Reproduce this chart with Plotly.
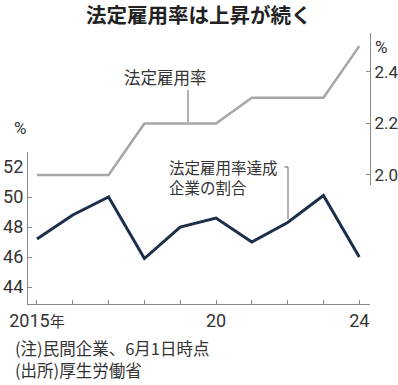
import plotly.graph_objects as go

years = [2015, 2016, 2017, 2018, 2019, 2020, 2021, 2022, 2023, 2024]
legal_rate = [2.0, 2.0, 2.0, 2.2, 2.2, 2.2, 2.3, 2.3, 2.3, 2.5]
achieved_share = [47.2, 48.8, 50.0, 45.9, 48.0, 48.6, 47.0, 48.3, 50.1, 46.0]
x_tick_text = ['2015<span style="font-size:15px">年</span>', "", "", "", "", "20", "", "", "", "24"]
left_ticks = [44, 46, 48, 50, 52]
right_ticks = [2.0, 2.2, 2.4]
right_tick_text = ["2.0", "2.2", "2.4"]

W, H = 398, 385
L, R, T, B = 28, 28, 33, 81
PW, PH = W - L - R, H - T - B

def px_x(p):
    return (p - L) / PW

def px_y(p):
    return (H - B - p) / PH

NUM_FONT = "Liberation Sans Narrow, Roboto, Noto Sans CJK JP, sans-serif"
JP_FONT = "Noto Sans CJK JP, sans-serif"
NAVY = "#1c2f4a"
GRAY = "#a6a6a6"
AXIS = "#8a8a8a"
TXT = "#333333"
LEAD = "#666666"

fig = go.Figure()
fig.add_trace(go.Scatter(x=years, y=legal_rate, yaxis="y2", mode="lines",
                         line=dict(color=GRAY, width=2.5), hoverinfo="skip"))
fig.add_trace(go.Scatter(x=years, y=achieved_share, yaxis="y", mode="lines",
                         line=dict(color=NAVY, width=3), hoverinfo="skip"))

fig.update_layout(
    template="none",
    width=W, height=H,
    margin=dict(l=L, r=R, t=T, b=B, pad=0, autoexpand=False),
    paper_bgcolor="white", plot_bgcolor="white",
    showlegend=False,
    xaxis=dict(range=[2014.75, 2024.3], tickvals=years, ticktext=x_tick_text,
               ticks="inside", ticklen=4, tickcolor=AXIS, showline=True,
               linecolor=AXIS, linewidth=1.2, showgrid=False, zeroline=False,
               automargin=False,
               tickfont=dict(family=NUM_FONT, size=18, color=TXT)),
    yaxis=dict(domain=[0, px_y(152)], range=[42.87, 53.0], tickvals=left_ticks,
               ticks="inside", ticklen=4, tickcolor=AXIS, showline=True,
               linecolor=AXIS, linewidth=1.2, showgrid=False, zeroline=False,
               automargin=False,
               tickfont=dict(family=NUM_FONT, size=18, color=TXT)),
    yaxis2=dict(domain=[px_y(185), 1], range=[1.961, 2.551], anchor="x",
                side="right", tickvals=right_ticks, ticktext=right_tick_text,
                ticks="inside", ticklen=4, tickcolor=AXIS, showline=True,
                linecolor=AXIS, linewidth=1.2, showgrid=False, zeroline=False,
                automargin=False,
                tickfont=dict(family=NUM_FONT, size=17, color=TXT)),
)

def note(text, x, y, size, anchor="left", family=JP_FONT, color=TXT):
    return dict(text=text, x=px_x(x), y=px_y(y), xref="paper", yref="paper",
                xanchor=anchor, yanchor="middle", showarrow=False,
                font=dict(family=family, size=size, color=color))

ann = [
    note("<b>法定雇用率は上昇が続く</b>", 199, 14, 20.5, "center", color="#222"),
    note("%", 19.5, 127.5, 17, "center", family=NUM_FONT),
    note("%", 381, 47, 17, "center", family=NUM_FONT),
    note("法定雇用率", 165, 77, 16.5, "center"),
    note("法定雇用率達成", 167, 167, 15.5),
    note("企業の割合", 167, 187, 15.5),
    note("(注)民間企業、6月1日時点", 13, 347.5, 16.5),
    note("(出所)厚生労働省", 13, 369.5, 16.5),
]
fig.update_layout(annotations=ann)

shapes = [
    dict(type="line", xref="paper", yref="paper", x0=px_x(188), x1=px_x(188),
         y0=px_y(90), y1=px_y(122), line=dict(color=LEAD, width=1)),
    dict(type="line", xref="paper", yref="paper", x0=px_x(288), x1=px_x(288),
         y0=px_y(167), y1=px_y(219), line=dict(color=LEAD, width=1)),
    dict(type="line", xref="paper", yref="paper", x0=px_x(284.5), x1=px_x(288),
         y0=px_y(167), y1=px_y(167), line=dict(color=LEAD, width=1)),
]
fig.update_layout(shapes=shapes)

fig.write_html(
    "out.html",
    config={"displayModeBar": False},
    post_script="document.documentElement.style.margin='0';"
                "document.body.style.margin='0';"
                "document.body.style.overflow='hidden';",
)
